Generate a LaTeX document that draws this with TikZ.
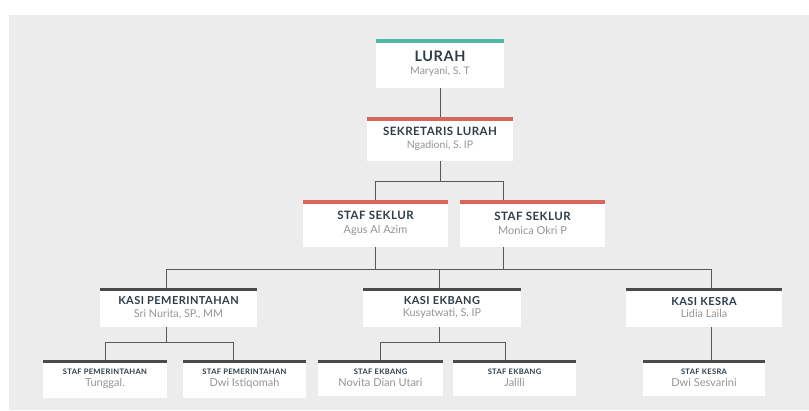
\documentclass[tikz,border=0pt]{standalone}
\usepackage{fontspec}
\setmainfont{Lato}
\newfontfamily\titlefam{Lato}[LetterSpace=4]
\usetikzlibrary{calc}
\definecolor{bgc}{HTML}{ECECEC}
\definecolor{barteal}{HTML}{52B8A6}
\definecolor{barred}{HTML}{D6675A}
\definecolor{bardark}{HTML}{4A4A4A}
\definecolor{titlec}{HTML}{2E3D48}
\definecolor{namec}{HTML}{959595}
\definecolor{linec}{HTML}{585858}
\newcommand\ttlA{\titlefam\bfseries\fontsize{14.5}{17}\selectfont\color{titlec}}
\newcommand\ttlB{\titlefam\bfseries\fontsize{11.5}{17}\selectfont\color{titlec}}
\newcommand\ttlC{\titlefam\bfseries\fontsize{11}{16}\selectfont\color{titlec}}
\newcommand\ttlD{\titlefam\bfseries\fontsize{7.6}{13}\selectfont\color{titlec}}
\newcommand\nmA{\fontsize{10.5}{17}\selectfont\color{namec}}
\newcommand\nmB{\fontsize{11}{17}\selectfont\color{namec}}
\newcommand\nmC{\fontsize{10.8}{16}\selectfont\color{namec}}
\newcommand\nmD{\fontsize{11}{14}\selectfont\color{namec}}
\tikzset{
  orgbox/.style 2 args={fill=white, minimum width=#1, minimum height=#2, inner sep=0pt, align=center},
  link/.style={draw=linec, line width=0.9pt},
}
\begin{document}
\begin{tikzpicture}[x=1pt, y=-1pt]
\fill[white] (0,0) rectangle (809,410);
\useasboundingbox (0,0) rectangle (809,410);
\fill[bgc] (9,15) rectangle (809,410);

% level 1
\node[orgbox={128pt}{49pt}] (lurah) at (440,63.5) {{\ttlA LURAH}\\[1.5pt]{\nmA Maryani, S. T}};
% level 2
\node[orgbox={146pt}{44pt}] (sek) at (440,139) {{\ttlB SEKRETARIS LURAH}\\[1.5pt]{\nmA Ngadioni, S. IP}};
% level 3
\node[orgbox={145pt}{47pt}] (s1) at (375.5,223.5) {{\ttlB STAF SEKLUR}\\[2pt]{\nmB Agus Al Azim}};
\node[orgbox={145pt}{47pt}] (s2) at (532.5,223.5) {{\ttlB STAF SEKLUR}\\[2pt]{\nmB Monica Okri P}};
% level 4
\node[orgbox={157pt}{39pt}] (kp) at (178.5,307.5) {{\ttlC KASI PEMERINTAHAN}\\[0.5pt]{\nmC Sri Nurita, SP., MM}};
\node[orgbox={158pt}{39pt}] (ke) at (442,307.5) {{\ttlC KASI EKBANG}\\[0.5pt]{\nmC Kusyatwati, S. IP}};
\node[orgbox={156pt}{39pt}] (kk) at (704,307.5) {{\ttlC KASI KESRA}\\[0.5pt]{\nmC Lidia Laila}};
% level 5
\node[orgbox={124pt}{38pt}] (sp1) at (105,379) {{\ttlD STAF PEMERINTAHAN}\\{\nmD Tunggal.}};
\node[orgbox={123pt}{38pt}] (sp2) at (244.5,379) {{\ttlD STAF PEMERINTAHAN}\\{\nmD Dwi Istiqomah}};
\node[orgbox={125pt}{36pt}] (se1) at (380.5,378) {{\ttlD STAF EKBANG}\\{\nmD Novita Dian Utari}};
\node[orgbox={123pt}{36pt}] (se2) at (514.5,378) {{\ttlD STAF EKBANG}\\{\nmD Jalili}};
\node[orgbox={122pt}{36pt}] (sk) at (704,378) {{\ttlD STAF KESRA}\\{\nmD Dwi Sesvarini}};

% top bars
\fill[barteal] (lurah.north west) rectangle ([yshift=-4pt]lurah.north east);
\foreach \n in {sek,s1,s2}{
  \fill[barred] (\n.north west) rectangle ([yshift=-4pt]\n.north east);
}
\foreach \n in {kp,ke,kk,sp1,sp2,se1,se2,sk}{
  \fill[bardark] (\n.north west) rectangle ([yshift=-3.5pt]\n.north east);
}

% connector anchor points
\coordinate (s2t) at ($(s2.north west)+(44,0)$);
\coordinate (s2b) at ($(s2.south west)+(44,0)$);
\coordinate (kpt) at ($(kp.north west)+(67,0)$);
\coordinate (kpb) at ($(kp.south west)+(67,0)$);
\coordinate (ket) at ($(ke.north west)+(77,0)$);
\coordinate (keb) at ($(ke.south west)+(77,0)$);
\coordinate (kkt) at ($(kk.north west)+(86,0)$);
\coordinate (kkb) at ($(kk.south west)+(86,0)$);
\coordinate (sp2t) at ($(sp2.north west)+(51,0)$);
\coordinate (se2t) at ($(se2.north west)+(53,0)$);
\coordinate (skt) at ($(sk.north west)+(69,0)$);

% connectors
\draw[link] (lurah.south) -- (sek.north);
\draw[link] (sek.south) -- ++(0,20) coordinate (j1);
\draw[link] (s1.north) |- (j1) -| (s2t);
\draw[link] (s1.south) -- ++(0,22) coordinate (j2);
\draw[link] (s2b) -- (s2b |- j2);
\draw[link] (kpt) |- (j2) -| (kkt);
\draw[link] (ket) -- (ket |- j2);
\draw[link] (kpb) -- ++(0,15) coordinate (j3);
\draw[link] (sp1.north) |- (j3) -| (sp2t);
\draw[link] (keb) -- ++(0,15) coordinate (j4);
\draw[link] (se1.north) |- (j4) -| (se2t);
\draw[link] (kkb) -- (skt);
\end{tikzpicture}
\end{document}
